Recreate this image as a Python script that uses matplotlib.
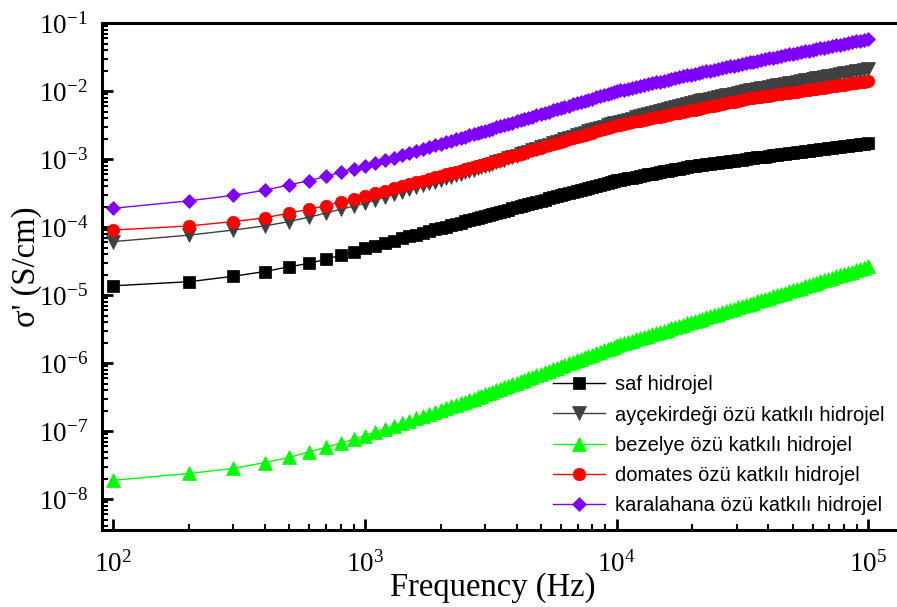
import numpy as np
import matplotlib
matplotlib.use('Agg')
import matplotlib.pyplot as plt
from matplotlib.ticker import LogLocator, NullFormatter

# frequency sweep (Hz)
freq = [100, 200, 300, 400, 500, 600, 700, 800, 900, 1000,
        1100, 1200, 1300, 1400, 1500, 1600, 1700, 1800, 1900, 2000,
        2100, 2200, 2300, 2400, 2500, 2600, 2700, 2800, 2900, 3000,
        3100, 3200, 3320, 3450, 3570, 3700, 3850, 4000, 4150, 4300,
        4450, 4600, 4800, 5000, 5200, 5400, 5600, 5800, 6000, 6200,
        6450, 6700, 6950, 7200, 7450, 7700, 8000, 8300, 8600, 8900,
        9200, 9500, 9750, 10000, 10350, 10700, 11100, 11500, 11950, 12400,
        12850, 13300, 13800, 14300, 14850, 15400, 15950, 16500, 17100, 17700,
        18350, 19000, 19700, 20400, 21150, 21900, 22700, 23500, 24400, 25300,
        26250, 27200, 28200, 29200, 30300, 31400, 32550, 33700, 34950, 36200,
        37550, 38900, 40300, 41800, 43300, 44900, 46550, 48300, 50050, 51900,
        53800, 55800, 57850, 60000, 62200, 64500, 66850, 69300, 71850, 74500,
        77200, 80000, 82950, 86000, 89150, 92400, 96150, 100000]

# log10 of sigma' (S/cm)
log_saf = [-4.86, -4.80, -4.72, -4.65, -4.58, -4.53, -4.47, -4.41, -4.36, -4.31,
           -4.27, -4.23, -4.20, -4.16, -4.13, -4.11, -4.08, -4.05, -4.03, -4.01,
           -3.99, -3.97, -3.95, -3.93, -3.91, -3.89, -3.88, -3.86, -3.85, -3.83,
           -3.815, -3.80, -3.785, -3.77, -3.755, -3.74, -3.723, -3.705, -3.69, -3.675,
           -3.66, -3.645, -3.628, -3.61, -3.593, -3.575, -3.56, -3.545, -3.53, -3.515,
           -3.498, -3.48, -3.465, -3.45, -3.435, -3.42, -3.405, -3.39, -3.378, -3.365,
           -3.35, -3.335, -3.323, -3.31, -3.30, -3.29, -3.28, -3.27, -3.258, -3.245,
           -3.234, -3.223, -3.212, -3.201, -3.19, -3.179, -3.169, -3.158, -3.147, -3.136,
           -3.126, -3.115, -3.104, -3.093, -3.086, -3.078, -3.071, -3.064, -3.056, -3.048,
           -3.041, -3.033, -3.026, -3.018, -3.011, -3.003, -2.996, -2.988, -2.981, -2.973,
           -2.966, -2.959, -2.951, -2.943, -2.936, -2.929, -2.921, -2.913, -2.906, -2.898,
           -2.891, -2.883, -2.876, -2.868, -2.861, -2.853, -2.846, -2.838, -2.831, -2.823,
           -2.816, -2.808, -2.801, -2.793, -2.786, -2.778, -2.77, -2.762]

log_aycekirdegi = [-4.21, -4.115, -4.04, -3.98, -3.915, -3.85, -3.79, -3.735, -3.69, -3.645,
                   -3.598, -3.555, -3.515, -3.478, -3.444, -3.412, -3.382, -3.354, -3.327, -3.302,
                   -3.278, -3.255, -3.233, -3.212, -3.191, -3.172, -3.153, -3.135, -3.118, -3.101,
                   -3.083, -3.065, -3.045, -3.025, -3.006, -2.987, -2.966, -2.945, -2.926, -2.906,
                   -2.888, -2.869, -2.847, -2.824, -2.804, -2.783, -2.764, -2.744, -2.726, -2.708,
                   -2.687, -2.666, -2.647, -2.627, -2.609, -2.591, -2.572, -2.553, -2.536, -2.518,
                   -2.502, -2.486, -2.473, -2.46, -2.446, -2.431, -2.416, -2.401, -2.385, -2.369,
                   -2.355, -2.34, -2.325, -2.309, -2.294, -2.278, -2.264, -2.249, -2.234, -2.219,
                   -2.205, -2.19, -2.175, -2.16, -2.148, -2.135, -2.123, -2.111, -2.098, -2.085,
                   -2.073, -2.06, -2.048, -2.035, -2.023, -2.01, -1.998, -1.986, -1.976, -1.965,
                   -1.955, -1.945, -1.935, -1.924, -1.914, -1.904, -1.894, -1.883, -1.873, -1.862,
                   -1.852, -1.841, -1.831, -1.82, -1.81, -1.80, -1.79, -1.779, -1.769, -1.759,
                   -1.749, -1.738, -1.728, -1.717, -1.707, -1.697, -1.686, -1.674]

log_bezelye = [-7.72, -7.62, -7.545, -7.46, -7.385, -7.30, -7.235, -7.175, -7.118, -7.062,
               -7.01, -6.963, -6.92, -6.879, -6.842, -6.807, -6.774, -6.743, -6.713, -6.686,
               -6.659, -6.634, -6.61, -6.587, -6.565, -6.542, -6.519, -6.498, -6.477, -6.457,
               -6.438, -6.418, -6.396, -6.374, -6.353, -6.332, -6.309, -6.285, -6.264, -6.242,
               -6.222, -6.202, -6.177, -6.152, -6.129, -6.106, -6.085, -6.063, -6.043, -6.023,
               -6.0, -5.977, -5.956, -5.934, -5.914, -5.894, -5.872, -5.849, -5.829, -5.808,
               -5.789, -5.769, -5.754, -5.738, -5.721, -5.704, -5.686, -5.667, -5.648, -5.629,
               -5.612, -5.594, -5.576, -5.557, -5.539, -5.52, -5.503, -5.485, -5.467, -5.449,
               -5.431, -5.413, -5.396, -5.378, -5.36, -5.342, -5.324, -5.306, -5.288, -5.269,
               -5.251, -5.232, -5.214, -5.196, -5.178, -5.16, -5.142, -5.124, -5.106, -5.088,
               -5.07, -5.051, -5.033, -5.015, -4.997, -4.979, -4.961, -4.942, -4.924, -4.905,
               -4.887, -4.869, -4.851, -4.832, -4.814, -4.796, -4.778, -4.759, -4.741, -4.723,
               -4.705, -4.687, -4.669, -4.65, -4.632, -4.614, -4.594, -4.574]

log_domates = [-4.04, -3.98, -3.915, -3.86, -3.79, -3.735, -3.68, -3.63, -3.585, -3.54,
               -3.499, -3.462, -3.428, -3.396, -3.367, -3.339, -3.313, -3.289, -3.265, -3.244,
               -3.223, -3.203, -3.184, -3.166, -3.148, -3.131, -3.115, -3.10, -3.085, -3.07,
               -3.055, -3.039, -3.022, -3.004, -2.988, -2.971, -2.953, -2.934, -2.917, -2.90,
               -2.884, -2.868, -2.848, -2.828, -2.81, -2.792, -2.775, -2.758, -2.742, -2.726,
               -2.708, -2.69, -2.673, -2.656, -2.64, -2.624, -2.606, -2.588, -2.572, -2.555,
               -2.54, -2.524, -2.512, -2.50, -2.489, -2.478, -2.466, -2.454, -2.442, -2.43,
               -2.419, -2.407, -2.396, -2.384, -2.372, -2.359, -2.348, -2.337, -2.326, -2.314,
               -2.303, -2.291, -2.28, -2.268, -2.257, -2.245, -2.234, -2.222, -2.21, -2.198,
               -2.186, -2.174, -2.163, -2.151, -2.139, -2.127, -2.116, -2.104, -2.096, -2.087,
               -2.079, -2.07, -2.062, -2.053, -2.045, -2.037, -2.029, -2.02, -2.012, -2.003,
               -1.995, -1.986, -1.978, -1.969, -1.961, -1.952, -1.944, -1.935, -1.927, -1.918,
               -1.91, -1.901, -1.893, -1.884, -1.876, -1.867, -1.858, -1.849]

log_karalahana = [-3.72, -3.61, -3.53, -3.455, -3.375, -3.315, -3.25, -3.19, -3.14, -3.10,
                  -3.055, -3.014, -2.976, -2.941, -2.908, -2.878, -2.849, -2.822, -2.796, -2.772,
                  -2.749, -2.727, -2.706, -2.686, -2.666, -2.648, -2.63, -2.613, -2.596, -2.58,
                  -2.565, -2.549, -2.531, -2.513, -2.496, -2.479, -2.46, -2.441, -2.424, -2.407,
                  -2.391, -2.374, -2.354, -2.334, -2.316, -2.297, -2.28, -2.262, -2.246, -2.23,
                  -2.212, -2.193, -2.176, -2.158, -2.142, -2.126, -2.108, -2.09, -2.073, -2.056,
                  -2.041, -2.025, -2.013, -2.00, -1.988, -1.975, -1.962, -1.949, -1.936, -1.922,
                  -1.909, -1.896, -1.883, -1.87, -1.857, -1.843, -1.83, -1.817, -1.805, -1.792,
                  -1.779, -1.766, -1.753, -1.74, -1.729, -1.717, -1.706, -1.694, -1.682, -1.669,
                  -1.657, -1.645, -1.634, -1.622, -1.61, -1.598, -1.587, -1.575, -1.563, -1.551,
                  -1.54, -1.528, -1.516, -1.504, -1.493, -1.481, -1.469, -1.457, -1.446, -1.435,
                  -1.424, -1.412, -1.401, -1.39, -1.379, -1.367, -1.356, -1.345, -1.334, -1.323,
                  -1.312, -1.301, -1.29, -1.278, -1.267, -1.256, -1.244, -1.232]

labels = ['saf hidrojel',
          'ayçekirdeği özü katkılı hidrojel',
          'bezelye özü katkılı hidrojel',
          'domates özü katkılı hidrojel',
          'karalahana özü katkılı hidrojel']


def main(out='out.png'):
    plt.rcParams['font.family'] = ['Liberation Serif', 'DejaVu Serif']
    plt.rcParams['mathtext.fontset'] = 'custom'
    plt.rcParams['mathtext.rm'] = 'Liberation Serif'

    fig = plt.figure(figsize=(8.97, 6.07), dpi=100)
    ax = fig.add_axes([0.1134, 0.1269, 0.89, 0.8347])

    styles = [('#000000', 's', 8.0),
              ('#404040', 'v', 9.5),
              ('#00ff00', '^', 9.5),
              ('#ff0000', 'o', 9.0),
              ('#7f00ff', 'D', 6.8)]
    series = [log_saf, log_aycekirdegi, log_bezelye, log_domates, log_karalahana]

    for vals, lab, (c, m, ms) in zip(series, labels, styles):
        ax.plot(freq, 10 ** np.array(vals), color=c, marker=m, ms=ms,
                mec=c, mew=0.5, lw=1.0, label=lab)

    ax.set_xscale('log')
    ax.set_yscale('log')
    ax.set_xlim(89.9, 1.336e5)
    ax.set_ylim(3.54e-9, 0.1)

    ax.yaxis.set_major_locator(LogLocator(base=10, numticks=30))
    ax.yaxis.set_minor_locator(LogLocator(base=10, subs=np.arange(2, 10), numticks=100))
    ax.yaxis.set_minor_formatter(NullFormatter())
    ax.xaxis.set_minor_locator(LogLocator(base=10, subs=np.arange(2, 10), numticks=100))
    ax.xaxis.set_minor_formatter(NullFormatter())

    ax.tick_params(which='major', direction='in', length=8, width=2, labelsize=19.5)
    ax.tick_params(which='minor', direction='in', length=4.5, width=1.5)
    ax.tick_params(axis='x', which='major', pad=15)
    ax.tick_params(axis='y', which='major', pad=10)
    ax.tick_params(top=False, right=False, which='both')
    for s in ax.spines.values():
        s.set_linewidth(2.2)
    ax.spines['right'].set_visible(False)

    ax.set_xlabel('Frequency (Hz)', fontsize=23.5)
    ax.set_ylabel("σ' (S/cm)", fontsize=23.5)
    ax.xaxis.set_label_coords(0.49, -0.083)
    ax.yaxis.set_label_coords(-0.075, 0.52)

    ax.legend(loc='lower left', bbox_to_anchor=(0.565, 0.03), frameon=False,
              borderpad=0, borderaxespad=0, handlelength=2.6, handletextpad=0.5,
              labelspacing=0.55, prop={'family': 'Liberation Sans', 'size': 14.5})

    fig.savefig(out, dpi=100)
    plt.close(fig)


if __name__ == '__main__':
    main()
